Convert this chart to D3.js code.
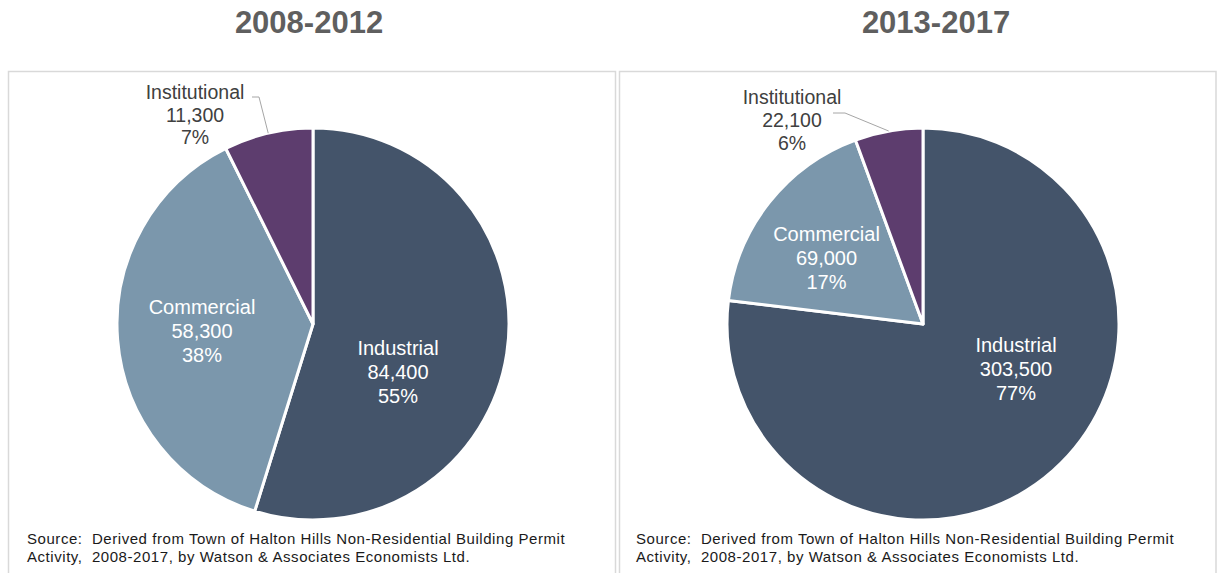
<!DOCTYPE html>
<html>
<head>
<meta charset="utf-8">
<script src="https://cdn.jsdelivr.net/npm/d3@7"></script>
<style>
  html, body { margin: 0; padding: 0; background: #ffffff; }
  svg { display: block; font-family: "Liberation Sans", Arial, sans-serif; }
  .src { white-space: pre; }
</style>
</head>
<body>
<svg id="chart" width="1217" height="573"></svg>
<script>
// ---- Data ----
const categories = ["Industrial", "Commercial", "Institutional"];
const periods = ["2008-2012", "2013-2017"];
const values2008_2012 = [84400, 58300, 11300];
const values2013_2017 = [303500, 69000, 22100];
const sourceLines = [
  "Source:  Derived from Town of Halton Hills Non-Residential Building Permit",
  "Activity,  2008-2017, by Watson & Associates Economists Ltd."
];

// ---- Styles / layout ----
const colors = ["#44546a", "#7b97ac", "#5d3d6e"];
const svg = d3.select("#chart");

const panels = [
  { title: periods[0], values: values2008_2012, x0: 8.5, x1: 615.5, titleX: 309, cx: 313, cy: 324, r: 196,
    srcX: 27,
    labels: [ {dx: 85, by: 54.5, inside: true}, {dx: -111, by: 14, inside: true}, {dx: -118, by: -202.5, inside: false} ],
    leaderStart: {dx: -61, dy: -227}, leaderElbow: {dx: -54, dy: -227} },
  { title: periods[1], values: values2013_2017, x0: 619.5, x1: 1216, titleX: 936, cx: 923, cy: 324, r: 196,
    srcX: 636,
    labels: [ {dx: 93, by: 52, inside: true}, {dx: -96.5, by: -59, inside: true}, {dx: -131, by: -197, inside: false} ],
    leaderStart: {dx: -90, dy: -211}, leaderElbow: {dx: -78, dy: -211} }
];

const fmt = d3.format(",");

panels.forEach(p => {
  // title
  svg.append("text")
    .attr("x", p.titleX).attr("y", 33)
    .attr("text-anchor", "middle")
    .attr("font-size", 31).attr("font-weight", "bold")
    .attr("fill", "#5f5f5f")
    .text(p.title);

  // panel border
  svg.append("rect")
    .attr("x", p.x0).attr("y", 71.5)
    .attr("width", p.x1 - p.x0).attr("height", 520)
    .attr("fill", "none").attr("stroke", "#d9d9d9").attr("stroke-width", 1.5);

  const g = svg.append("g").attr("transform", `translate(${p.cx},${p.cy})`);
  const total = d3.sum(p.values);
  const pie = d3.pie().sort(null).value(d => d)(p.values);
  const arc = d3.arc().innerRadius(0).outerRadius(p.r);

  g.selectAll("path.slice").data(pie).enter().append("path")
    .attr("class", "slice")
    .attr("d", arc)
    .attr("fill", (d, i) => colors[i])
    .attr("stroke", "#ffffff").attr("stroke-width", 3)
    .attr("stroke-linejoin", "round");

  pie.forEach((d, i) => {
    const L = p.labels[i];
    const pct = Math.round(d.value / total * 100) + "%";
    const lines = [categories[i], fmt(d.value), pct];
    const fs = L.inside ? 20 : 19.5;
    const lh = L.inside ? 24 : 22.8;
    const t = g.append("text")
      .attr("text-anchor", "middle")
      .attr("font-size", fs)
      .attr("fill", L.inside ? "#ffffff" : "#404040");
    lines.forEach((s, k) => {
      t.append("tspan").attr("x", L.dx).attr("y", L.by + (k - 1) * lh).text(s);
    });
    if (!L.inside) {
      const mid = (d.startAngle + d.endAngle) / 2;
      const ex = Math.sin(mid) * p.r, ey = -Math.cos(mid) * p.r;
      g.append("polyline")
        .attr("points", `${p.leaderStart.dx},${p.leaderStart.dy} ${p.leaderElbow.dx},${p.leaderElbow.dy} ${ex},${ey}`)
        .attr("fill", "none").attr("stroke", "#a6a6a6").attr("stroke-width", 1);
    }
  });

  // source
  const st = svg.append("text")
    .attr("class", "src")
    .attr("xml:space", "preserve")
    .attr("font-size", 15).attr("fill", "#1a1a1a")
    .attr("letter-spacing", 0.55);
  sourceLines.forEach((s, k) => {
    st.append("tspan").attr("x", p.srcX).attr("y", 544 + k * 18).text(s);
  });
});
</script>
</body>
</html>
